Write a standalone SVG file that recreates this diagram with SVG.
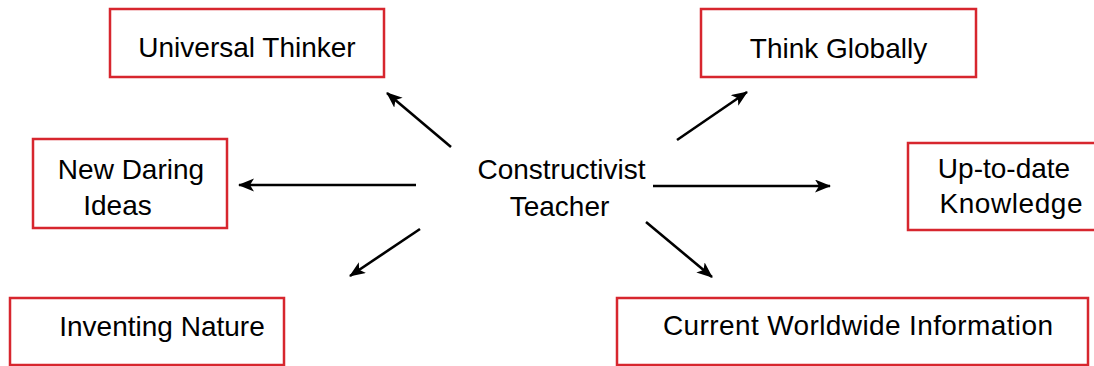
<svg xmlns="http://www.w3.org/2000/svg" width="1094" height="366" viewBox="0 0 1094 366">
<style>
.box{fill:#fff;stroke:#d7262e;stroke-width:2.5}
.t{font-family:"Liberation Sans",Arial,sans-serif;font-size:28px;fill:#000}
.c{stroke:#000;stroke-width:2.6;fill:none;marker-end:url(#ah)}
</style>
<defs>
<marker id="ah" markerUnits="userSpaceOnUse" markerWidth="18" markerHeight="14" refX="15" refY="6.5" orient="auto">
<path d="M0,0 L16,6.5 L0,13 L4,6.5 z" fill="#000"/>
</marker>
</defs>
<rect width="1094" height="366" fill="#fff"/>
<g id="center">
<text class="t" x="561.5" y="179" text-anchor="middle">Constructivist</text>
<text class="t" x="559.5" y="216" text-anchor="middle">Teacher</text>
</g>
<g id="universal-thinker">
<rect class="box" x="110" y="9" width="274" height="68"/>
<text class="t" x="247" y="57" text-anchor="middle">Universal Thinker</text>
</g>
<g id="think-globally">
<rect class="box" x="701" y="9" width="275" height="68"/>
<text class="t" x="838.5" y="58" text-anchor="middle">Think Globally</text>
</g>
<g id="new-daring-ideas">
<rect class="box" x="33" y="139" width="194" height="89"/>
<text class="t" x="131" y="179" text-anchor="middle">New Daring</text>
<text class="t" x="117.5" y="215" text-anchor="middle">Ideas</text>
</g>
<g id="up-to-date-knowledge">
<rect class="box" x="908" y="143" width="206" height="87"/>
<text class="t" x="1004" y="178" text-anchor="middle">Up-to-date</text>
<text class="t" x="1011" y="213" text-anchor="middle" textLength="143">Knowledge</text>
</g>
<g id="inventing-nature">
<rect class="box" x="10" y="298" width="274" height="67"/>
<text class="t" x="162" y="336" text-anchor="middle">Inventing Nature</text>
</g>
<g id="current-worldwide-information">
<rect class="box" x="617" y="298" width="471" height="67"/>
<text class="t" x="858" y="335" text-anchor="middle" textLength="390">Current Worldwide Information</text>
</g>
<g id="connectors">
<line class="c" x1="451" y1="147" x2="387" y2="93"/>
<line class="c" x1="416" y1="185" x2="239" y2="185"/>
<line class="c" x1="420" y1="229" x2="350" y2="276"/>
<line class="c" x1="677" y1="140" x2="747" y2="92"/>
<line class="c" x1="653" y1="186" x2="830" y2="186"/>
<line class="c" x1="646" y1="222" x2="712" y2="277"/>
</g>
</svg>
